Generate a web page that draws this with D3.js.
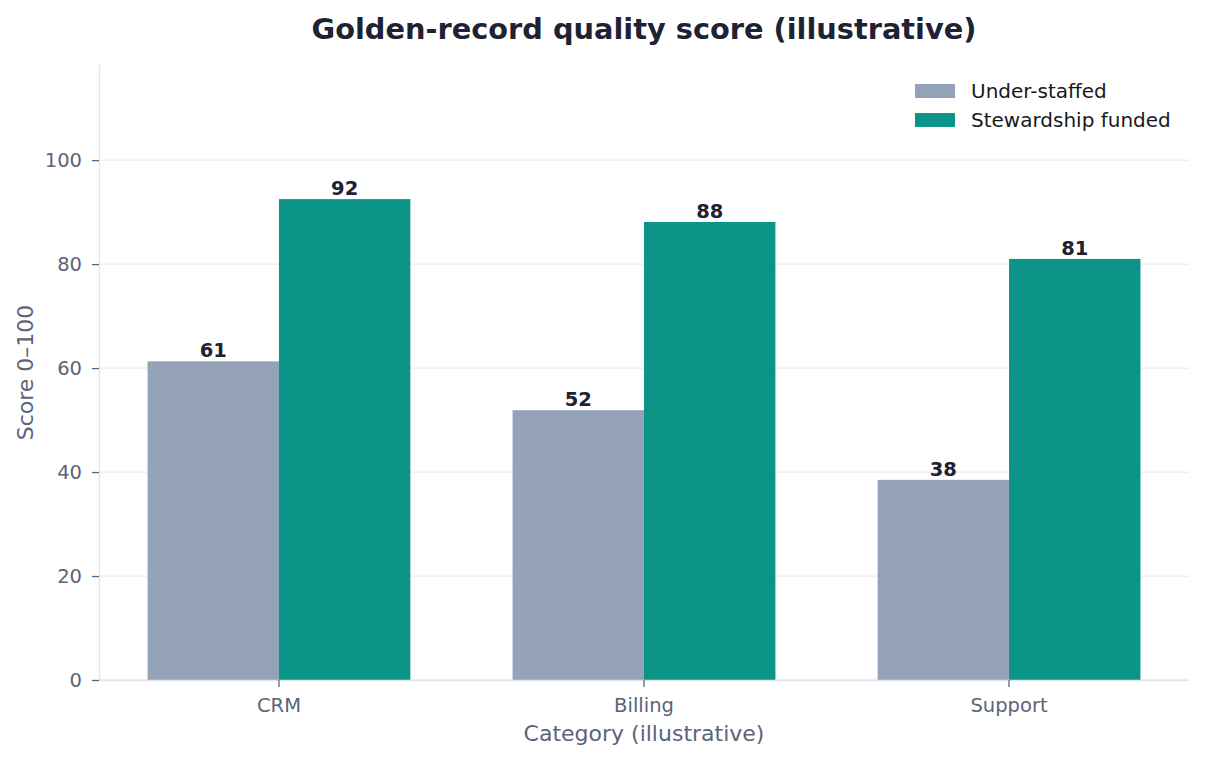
<!DOCTYPE html>
<html>
<head>
<meta charset="utf-8">
<script src="https://cdn.jsdelivr.net/npm/d3@7"></script>
<style>
  body { margin: 0; background: #fff; }
  text { font-family: "DejaVu Sans", sans-serif; }
</style>
</head>
<body>
<div id="chart"></div>
<script>
// Data
var categories = ["CRM", "Billing", "Support"];
var seriesNames = ["Under-staffed", "Stewardship funded"];
var underStaffed = [61.3, 51.9, 38.5];
var stewardship = [92.5, 88.1, 81.0];
var valueLabels = ["61", "52", "38"];
var stewardLabels = ["92", "88", "81"];
var yTicks = [0, 20, 40, 60, 80, 100];
var colors = ["#94a3b8", "#0d9488"];

var svgWidth = 1206;
var svgHeight = 760;
var margin = { top: 65, right: 17, bottom: 80, left: 99 };
var width = svgWidth - margin.left - margin.right;
var height = svgHeight - margin.top - margin.bottom;

var svg = d3.select("#chart").append("svg")
  .attr("width", svgWidth)
  .attr("height", svgHeight);

var chartGroup = svg.append("g")
  .attr("transform", `translate(${margin.left}, ${margin.top})`);

// Scales
var x0 = d3.scaleBand()
  .domain(categories)
  .range([0, width])
  .paddingInner(0.28)
  .paddingOuter(0.133);

var x1 = d3.scaleBand()
  .domain(seriesNames)
  .range([0, x0.bandwidth()]);

var y = d3.scaleLinear()
  .domain([0, 118.3])
  .range([height, 0]);

// Gridlines
chartGroup.append("g")
  .selectAll("line")
  .data(yTicks)
  .enter()
  .append("line")
  .attr("x1", 0)
  .attr("x2", width)
  .attr("y1", d => y(d))
  .attr("y2", d => y(d))
  .attr("stroke", "#e8ebf1")
  .attr("stroke-width", 1.3);

// Bars
var rows = categories.map((c, i) => ({
  cat: c,
  vals: [underStaffed[i], stewardship[i]],
  labels: [valueLabels[i], stewardLabels[i]]
}));

var groups = chartGroup.selectAll(".grp")
  .data(rows)
  .enter()
  .append("g")
  .attr("transform", d => `translate(${x0(d.cat)}, 0)`);

groups.selectAll("rect")
  .data(d => d.vals.map((v, j) => ({ name: seriesNames[j], v: v, j: j })))
  .enter()
  .append("rect")
  .attr("x", d => x1(d.name))
  .attr("y", d => y(d.v))
  .attr("width", x1.bandwidth())
  .attr("height", d => height - y(d.v))
  .attr("fill", d => colors[d.j]);

groups.selectAll(".val")
  .data(d => d.vals.map((v, j) => ({ name: seriesNames[j], v: v, label: d.labels[j] })))
  .enter()
  .append("text")
  .attr("x", d => x1(d.name) + x1.bandwidth() / 2)
  .attr("y", d => y(d.v) - 4)
  .attr("text-anchor", "middle")
  .attr("font-size", "19.5px")
  .attr("font-weight", "bold")
  .attr("fill", "#1e2233")
  .text(d => d.label);

// Axes
var bottomAxis = d3.axisBottom(x0).tickSize(7).tickPadding(11);
var leftAxis = d3.axisLeft(y).tickValues(yTicks).tickSize(7).tickPadding(10);

var xAxisG = chartGroup.append("g")
  .attr("transform", `translate(0, ${height})`)
  .call(bottomAxis);

var yAxisG = chartGroup.append("g")
  .call(leftAxis);

[xAxisG, yAxisG].forEach(function(g) {
  g.attr("font-size", null).attr("font-family", null);
  g.select(".domain").attr("stroke", "#e2e6ee").attr("stroke-width", 1.3);
  g.selectAll(".tick line").attr("stroke", "#5b6478").attr("stroke-width", 1.3);
  g.selectAll(".tick text")
    .attr("fill", "#5b6478")
    .style("font-size", "19.5px");
});
// plain spines without end ticks
xAxisG.select(".domain").attr("d", `M0,0.5H${width}`);
yAxisG.select(".domain").attr("d", `M0.5,${height}V0`);

// Axis labels
chartGroup.append("text")
  .attr("transform", "rotate(-90)")
  .attr("x", -height / 2)
  .attr("y", -66)
  .attr("text-anchor", "middle")
  .style("font-size", "22px")
  .attr("fill", "#5b6478")
  .text("Score 0–100");

chartGroup.append("text")
  .attr("x", width / 2)
  .attr("y", height + 61)
  .attr("text-anchor", "middle")
  .style("font-size", "22px")
  .attr("fill", "#5b6478")
  .text("Category (illustrative)");

// Title
svg.append("text")
  .attr("x", margin.left + width / 2)
  .attr("y", 39)
  .attr("text-anchor", "middle")
  .style("font-size", "28.8px")
  .attr("font-weight", "bold")
  .attr("fill", "#1e2233")
  .text("Golden-record quality score (illustrative)");

// Legend
var legend = svg.append("g")
  .attr("transform", "translate(915, 84)");

seriesNames.forEach(function(name, i) {
  legend.append("rect")
    .attr("x", 0)
    .attr("y", i * 29)
    .attr("width", 40)
    .attr("height", 14)
    .attr("fill", colors[i]);
  legend.append("text")
    .attr("x", 56)
    .attr("y", i * 29 + 14)
    .style("font-size", "20px")
    .attr("fill", "#1a1a1a")
    .text(name);
});
</script>
</body>
</html>
